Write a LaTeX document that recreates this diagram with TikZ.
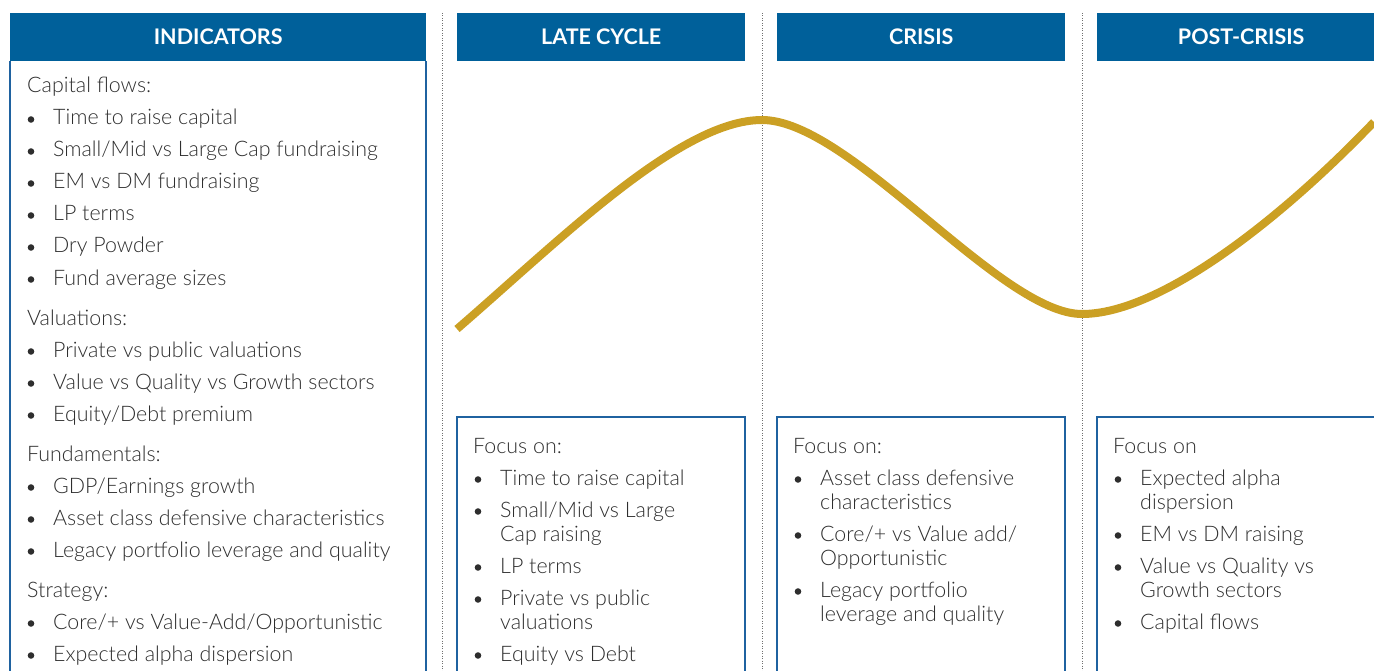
\documentclass[tikz,border=0pt]{standalone}
\usepackage{fontspec}
\setmainfont{Lato}[UprightFont=* Light, BoldFont=* Bold]
\definecolor{hblue}{HTML}{00609A}
\definecolor{bblue}{HTML}{1F62A0}
\definecolor{gold}{HTML}{CBA024}
\definecolor{tgray}{HTML}{2E2E2E}
\definecolor{dgray}{HTML}{707070}
\newcommand{\bodyfont}{\fontsize{21.4}{24}\selectfont}
\newcommand{\hdrfont}{\fontsize{21.5}{24}\selectfont\bfseries}
\newcommand{\hdrtext}[1]{\raisebox{-1.6pt}{#1}}
\tikzset{
  hdr/.style={fill=hblue, text=white, font=\hdrfont, minimum height=48pt, inner sep=0pt, anchor=north west},
  txt/.style={anchor=base west, inner sep=0pt, font=\bodyfont, text=tgray},
  boxline/.style={draw=bblue, line width=1.2pt},
  sep/.style={draw=dgray, line width=0.9pt, dash pattern=on 0.9pt off 1.6pt},
  wave/.style={draw=gold, line width=8pt}
}
\newcommand{\bitem}[4]{%
  \fill[tgray] ({#2-22},{#3-5.5}) circle (3.3pt);
  \node[txt] (#1) at (#2,#3) {#4};}
\newcommand{\plainline}[4]{\node[txt] (#1) at (#2,#3) {#4};}
\begin{document}
\begin{tikzpicture}[x=1pt,y=-1pt]
\useasboundingbox (0,0) rectangle (1374,671);
\clip (0,0) rectangle (1374,671);
% separators
\coordinate (s1t) at (442,13); \coordinate (s1b) at (442,671);
\coordinate (s2t) at (762,13); \coordinate (s2b) at (762,671);
\coordinate (s3t) at (1082,13); \coordinate (s3b) at (1082,671);
\draw[sep] (s1t) -- (s1b);
\draw[sep] (s2t) -- (s2b);
\draw[sep] (s3t) -- (s3b);
% headers
\node[hdr, minimum width=416pt] (hind) at (10,13) {\hdrtext{INDICATORS}};
\node[hdr, minimum width=288pt] (hlate) at (457,13) {\hdrtext{LATE CYCLE}};
\node[hdr, minimum width=288pt] (hcris) at (777,13) {\hdrtext{CRISIS}};
\node[hdr, minimum width=288pt] (hpost) at (1097,13) {\hdrtext{POST-CRISIS}};
% boxes
\draw[boxline] (10,61) -- (10,690) (426,61) -- (426,690);
\draw[boxline] (457,690) |- (745,417) -- (745,690);
\draw[boxline] (777,690) |- (1065,417) -- (1065,690);
\draw[boxline] (1097,690) |- (1385,417) -- (1385,690);
% wave
\draw[wave] (457,329) .. controls (560,240) and (680,120) .. (762,120)
  .. controls (850,120) and (1000,314) .. (1082,314)
  .. controls (1160,314) and (1280,220) .. (1374,122);
% indicators
\plainline{ic}{27}{93}{Capital flows:}
\bitem{i1}{53}{125}{Time to raise capital}
\bitem{i2}{53}{157}{Small/Mid vs Large Cap fundraising}
\bitem{i3}{53}{189}{EM vs DM fundraising}
\bitem{i4}{53}{221}{LP terms}
\bitem{i5}{53}{253}{Dry Powder}
\bitem{i6}{53}{285}{Fund average sizes}
\plainline{iv}{27}{325}{Valuations:}
\bitem{i7}{53}{357}{Private vs public valuations}
\bitem{i8}{53}{389}{Value vs Quality vs Growth sectors}
\bitem{i9}{53}{421}{Equity/Debt premium}
\plainline{if}{27}{461}{Fundamentals:}
\bitem{i10}{53}{493}{GDP/Earnings growth}
\bitem{i11}{53}{525}{Asset class defensive characteristics}
\bitem{i12}{53}{557}{Legacy portfolio leverage and quality}
\plainline{is}{27}{597}{Strategy:}
\bitem{i13}{53}{629}{Core/+ vs Value-Add/Opportunistic}
\bitem{i14}{53}{661}{Expected alpha dispersion}
% late cycle
\plainline{lf}{473}{453}{Focus on:}
\bitem{l1}{500}{485}{Time to raise capital}
\bitem{l2}{500}{517}{Small/Mid vs Large}
\plainline{l2b}{500}{541}{Cap raising}
\bitem{l3}{500}{573}{LP terms}
\bitem{l4}{500}{605}{Private vs public}
\plainline{l4b}{500}{629}{valuations}
\bitem{l5}{500}{661}{Equity vs Debt}
% crisis
\plainline{cf}{793}{453}{Focus on:}
\bitem{c1}{820}{485}{Asset class defensive}
\plainline{c1b}{820}{509}{characteristics}
\bitem{c2}{820}{541}{Core/+ vs Value add/}
\plainline{c2b}{820}{565}{Opportunistic}
\bitem{c3}{820}{597}{Legacy portfolio}
\plainline{c3b}{820}{621}{leverage and quality}
% post crisis
\plainline{pf}{1113}{453}{Focus on}
\bitem{p1}{1140}{485}{Expected alpha}
\plainline{p1b}{1140}{509}{dispersion}
\bitem{p2}{1140}{541}{EM vs DM raising}
\bitem{p3}{1140}{573}{Value vs Quality vs}
\plainline{p3b}{1140}{597}{Growth sectors}
\bitem{p4}{1140}{629}{Capital flows}
\end{tikzpicture}
\end{document}
